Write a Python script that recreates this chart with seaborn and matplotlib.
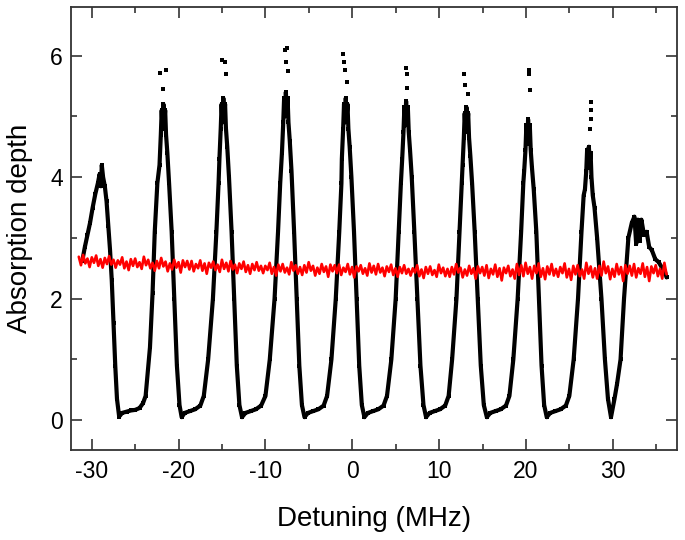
import numpy as np
import pandas as pd
import matplotlib
matplotlib.use("Agg")
import matplotlib.pyplot as plt
from matplotlib.ticker import MultipleLocator
import seaborn as sns

sns.set_theme(style="ticks")
plt.rcParams["font.family"] = ["Liberation Sans", "DejaVu Sans"]

# black trace: absorption comb
comb_x = [
    -31.1, -30.8, -30.5, -30.2, -29.9, -29.6, -29.3, -29.1, -28.95, -28.85, -28.7, -28.5,
    -28.3, -28.1, -27.9, -27.7, -27.5, -27.3, -27.1, -26.85, -26.5, -26.0, -25.5, -25.0,
    -24.5, -24.1, -23.8, -23.3, -23.0, -22.75, -22.45,
    -22.2, -22.05, -21.95, -21.85, -21.75, -21.65, -21.55, -21.45, -21.3, -21.1,
    -20.8, -20.5, -20.2, -19.9, -19.65, -19.3, -18.7, -18.1, -17.5, -17.1, -16.6, -16.05, -15.65, -15.4,
    -15.3, -15.15, -15.05, -14.95, -14.85, -14.75, -14.65, -14.55, -14.4, -14.2,
    -13.9, -13.6, -13.3, -13.0, -12.7, -12.3, -11.7, -11.1, -10.5, -10.0, -9.5, -8.95, -8.55, -8.3,
    -8.1, -7.95, -7.85, -7.75, -7.65, -7.55, -7.45, -7.35, -7.2, -7.0,
    -6.7, -6.4, -6.1, -5.8, -5.5, -5.1, -4.5, -3.9, -3.3, -2.9, -2.4, -1.9, -1.5, -1.25,
    -1.2, -1.05, -0.95, -0.85, -0.75, -0.65, -0.55, -0.45, -0.3, -0.1,
    0.2, 0.5, 0.8, 1.1, 1.4, 1.8, 2.4, 3.0, 3.6, 4.0, 4.5, 5.0, 5.35, 5.6,
    5.75, 5.9, 6.0, 6.1, 6.2, 6.3, 6.4, 6.5, 6.65, 6.85,
    7.15, 7.5, 7.85, 8.2, 8.5, 8.9, 9.5, 10.1, 10.7, 11.1, 11.5, 12.0, 12.35, 12.6,
    12.7, 12.85, 12.95, 13.05, 13.15, 13.25, 13.35, 13.45, 13.6, 13.8,
    14.1, 14.45, 14.8, 15.15, 15.5, 15.9, 16.5, 17.1, 17.7, 18.1, 18.55, 19.05, 19.45, 19.7,
    19.8, 19.95, 20.05, 20.15, 20.25, 20.35, 20.45, 20.55, 20.7, 20.9,
    21.2, 21.5, 21.8, 22.1, 22.4, 22.8, 23.4, 24.0, 24.6, 25.0, 25.5, 26.0, 26.4, 26.65,
    26.8, 26.95, 27.05, 27.15, 27.25, 27.35, 27.45, 27.55, 27.7, 27.9,
    28.2, 28.7, 29.1, 29.45, 29.8, 30.2, 30.5, 30.9, 31.3, 31.8, 32.2, 32.5, 32.7, 32.9,
    33.1, 33.3, 33.6, 33.9, 34.2, 34.5, 34.9, 35.3, 35.7, 36.0, 36.2,
]
comb_y = [
    2.62, 2.85, 3.05, 3.25, 3.5, 3.72, 3.9, 4.05, 3.85, 4.2, 4.0, 3.85,
    3.6, 3.2, 2.8, 2.3, 1.6, 0.9, 0.35, 0.06, 0.12, 0.14, 0.16, 0.17,
    0.2, 0.28, 0.4, 1.2, 2.1, 3.1, 3.9,
    4.2, 4.7, 5.1, 4.8, 5.2, 4.9, 5.1, 4.7, 4.4, 3.9,
    3.1, 2.0, 0.9, 0.25, 0.05, 0.12, 0.15, 0.18, 0.24, 0.4, 1.0, 2.0, 3.1, 3.9,
    4.3, 4.8, 5.2, 4.9, 5.3, 5.0, 5.2, 4.8, 4.5, 4.0,
    3.1, 2.0, 0.9, 0.25, 0.05, 0.12, 0.15, 0.18, 0.24, 0.4, 1.0, 2.0, 3.1, 3.9,
    4.4, 4.9, 5.3, 5.0, 5.4, 5.1, 5.3, 4.9, 4.6, 4.1,
    3.1, 2.0, 0.9, 0.25, 0.05, 0.12, 0.15, 0.18, 0.24, 0.4, 1.0, 2.0, 3.1, 3.9,
    4.3, 4.8, 5.2, 4.9, 5.3, 5.0, 5.2, 4.8, 4.5, 4.0,
    3.1, 2.0, 0.9, 0.25, 0.05, 0.12, 0.15, 0.18, 0.24, 0.4, 1.0, 2.0, 3.1, 3.9,
    4.3, 4.75, 5.15, 4.85, 5.25, 4.95, 5.15, 4.75, 4.45, 4.0,
    3.1, 2.0, 0.9, 0.25, 0.05, 0.12, 0.15, 0.18, 0.24, 0.4, 1.0, 2.0, 3.1, 3.9,
    4.2, 4.65, 5.05, 4.75, 5.15, 4.85, 5.05, 4.65, 4.35, 3.9,
    3.1, 2.0, 0.9, 0.25, 0.05, 0.12, 0.15, 0.18, 0.24, 0.4, 1.0, 2.0, 3.1, 3.9,
    4.1, 4.45, 4.85, 4.55, 4.95, 4.65, 4.85, 4.45, 4.15, 3.8,
    3.1, 2.0, 0.9, 0.25, 0.05, 0.12, 0.15, 0.18, 0.24, 0.4, 1.0, 2.0, 3.1, 3.7,
    3.8, 4.1, 4.45, 4.15, 4.5, 4.25, 4.4, 4.0, 3.7, 3.5,
    3.0, 2.0, 1.0, 0.35, 0.05, 0.35, 0.6, 1.0, 2.0, 3.0, 3.25, 3.35, 2.9, 3.3,
    2.95, 3.3, 3.05, 3.1, 2.85, 2.8, 2.65, 2.6, 2.5, 2.45, 2.35,
]

# stray points above the peaks
stray_x = [-22.1, -21.4, -21.8, -15.0, -14.7, -14.6, -7.7, -7.5, -7.6, -7.4,
           -1.1, -1.0, -0.8, -0.6, 6.2, 6.3, 6.25, 12.9, 13.0, 13.3,
           20.3, 20.4, 20.5, 27.5, 27.45, 27.5, 27.4]
stray_y = [5.72, 5.76, 5.45, 5.92, 5.9, 5.69, 6.1, 6.12, 5.9, 5.74,
           6.03, 5.9, 5.77, 5.57, 5.79, 5.69, 5.46, 5.69, 5.52, 5.36,
           5.77, 5.69, 5.44, 5.24, 5.11, 4.95, 4.8]

# red trace: reference level, sampled every 0.25 MHz from -31.5 to 36.2
ref_y = [
    2.69, 2.55, 2.72, 2.58, 2.66, 2.52, 2.68, 2.59, 2.71, 2.54, 2.65, 2.51, 2.67, 2.57, 2.70, 2.56, 2.64,
    2.51, 2.63, 2.56, 2.68, 2.50, 2.61, 2.47, 2.65, 2.54, 2.66, 2.52, 2.60, 2.49, 2.69, 2.55, 2.64, 2.50,
    2.59, 2.46, 2.62, 2.50, 2.67, 2.53, 2.61, 2.45, 2.58, 2.48, 2.64, 2.51, 2.60, 2.43, 2.63, 2.52, 2.62,
    2.48, 2.62, 2.45, 2.57, 2.50, 2.63, 2.46, 2.58, 2.41, 2.59, 2.51, 2.61, 2.47, 2.56, 2.44, 2.64, 2.49,
    2.59, 2.45, 2.62, 2.48, 2.56, 2.42, 2.58, 2.49, 2.61, 2.44, 2.55, 2.41, 2.57, 2.47, 2.60, 2.46, 2.54,
    2.42, 2.54, 2.47, 2.59, 2.41, 2.52, 2.38, 2.56, 2.45, 2.57, 2.43, 2.51, 2.40, 2.60, 2.46, 2.55, 2.41,
    2.52, 2.39, 2.55, 2.43, 2.60, 2.46, 2.54, 2.38, 2.51, 2.41, 2.57, 2.44, 2.53, 2.36, 2.56, 2.45, 2.55,
    2.42, 2.56, 2.39, 2.51, 2.44, 2.57, 2.40, 2.52, 2.35, 2.53, 2.45, 2.55, 2.41, 2.50, 2.38, 2.58, 2.43,
    2.54, 2.40, 2.57, 2.43, 2.51, 2.37, 2.53, 2.44, 2.56, 2.39, 2.50, 2.36, 2.52, 2.42, 2.55, 2.41, 2.49,
    2.38, 2.50, 2.43, 2.55, 2.37, 2.48, 2.34, 2.52, 2.41, 2.53, 2.39, 2.47, 2.36, 2.56, 2.42, 2.51, 2.37,
    2.49, 2.36, 2.52, 2.40, 2.57, 2.43, 2.51, 2.35, 2.48, 2.38, 2.54, 2.41, 2.50, 2.33, 2.53, 2.42, 2.52,
    2.38, 2.55, 2.34, 2.49, 2.40, 2.56, 2.36, 2.50, 2.30, 2.51, 2.42, 2.54, 2.37, 2.48, 2.33, 2.57, 2.39,
    2.55, 2.37, 2.59, 2.41, 2.52, 2.33, 2.54, 2.42, 2.58, 2.36, 2.50, 2.32, 2.53, 2.40, 2.57, 2.38, 2.49,
    2.36, 2.52, 2.42, 2.58, 2.35, 2.49, 2.31, 2.54, 2.40, 2.55, 2.37, 2.48, 2.33, 2.59, 2.41, 2.53, 2.35,
    2.50, 2.33, 2.54, 2.38, 2.61, 2.42, 2.53, 2.32, 2.49, 2.36, 2.57, 2.40, 2.52, 2.29, 2.55, 2.41, 2.54,
    2.38, 2.57, 2.35, 2.50, 2.41, 2.58, 2.36, 2.52, 2.29, 2.53, 2.42, 2.55, 2.37, 2.49, 2.33, 2.59, 2.40,
]
ref_x = np.linspace(-31.5, 36.2, len(ref_y))

comb = pd.DataFrame({"x": comb_x, "y": comb_y})
ref = pd.DataFrame({"x": ref_x, "y": ref_y})

fig = plt.figure(figsize=(6.85, 5.4), dpi=100)
ax = fig.add_axes([0.1036, 0.1667, 0.8847, 0.8204])

sns.lineplot(data=comb, x="x", y="y", color="black", lw=3.0, sort=False,
             estimator=None, marker="s", markersize=3, markeredgewidth=0,
             ax=ax, zorder=2)
sns.scatterplot(x=stray_x, y=stray_y, color="black", marker="s", s=8,
                linewidth=0, ax=ax, zorder=2)
sns.lineplot(data=ref, x="x", y="y", color="#ff0000", lw=1.9, sort=False,
             estimator=None, ax=ax, zorder=3)

ax.set_xlim(-32.4, 37.4)
ax.set_ylim(-0.49, 6.8)
ax.xaxis.set_major_locator(MultipleLocator(10))
ax.xaxis.set_minor_locator(MultipleLocator(5))
ax.yaxis.set_major_locator(MultipleLocator(2))
ax.yaxis.set_minor_locator(MultipleLocator(1))
ax.tick_params(which="both", direction="in", top=True, right=True,
               color="#333333", width=1.2, labelcolor="black")
ax.tick_params(which="major", length=8, labelsize=16.5)
ax.tick_params(axis="x", which="major", pad=7)
ax.tick_params(axis="y", which="major", pad=6)
ax.tick_params(which="minor", length=4.5)
ax.set_xticklabels([str(int(t)) for t in ax.get_xticks()])
for s in ax.spines.values():
    s.set_color("#333333")
    s.set_linewidth(1.3)

ax.set_xlabel("Detuning (MHz)", fontsize=20, labelpad=17, color="black")
ax.set_ylabel("Absorption depth", fontsize=20, labelpad=12, color="black")

fig.savefig("out.png", dpi=100)
